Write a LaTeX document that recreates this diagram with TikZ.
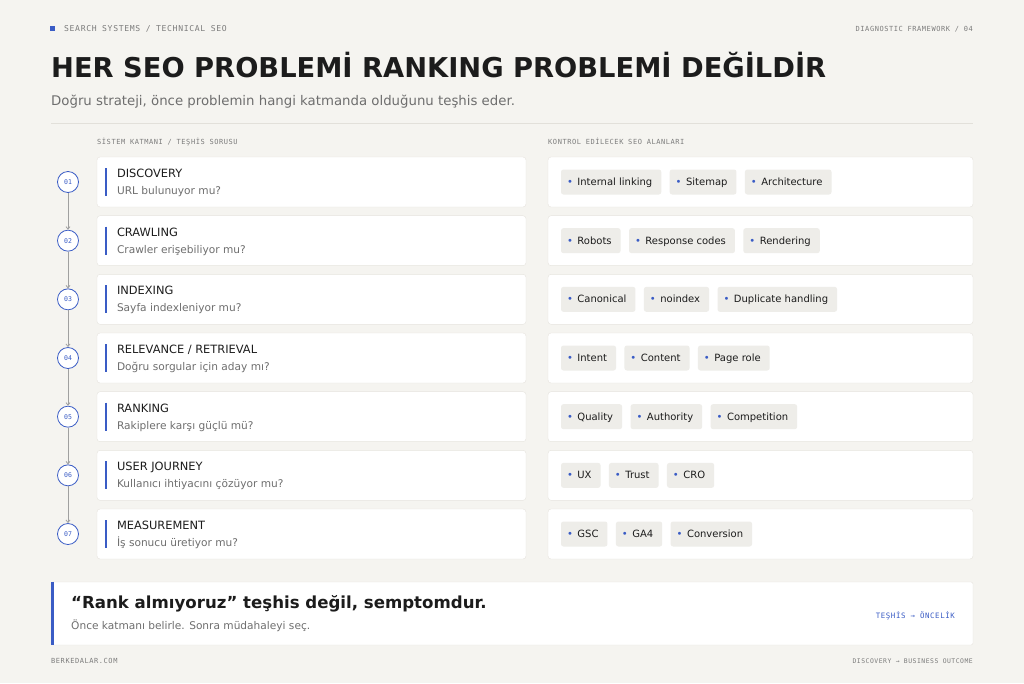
\documentclass[tikz,border=0pt]{standalone}
\usepackage{fontspec}
\setmainfont{DejaVu Sans}
\setmonofont{DejaVu Sans Mono}
\newfontfamily\capsmono[LetterSpace=8]{DejaVu Sans Mono}
\usetikzlibrary{positioning,arrows.meta}

\definecolor{paper}{HTML}{F5F4F0}
\definecolor{accent}{HTML}{3A5CC5}
\definecolor{ink}{HTML}{1C1C1C}
\definecolor{muted}{HTML}{6E6E6E}
\definecolor{monogray}{HTML}{7C7C7C}
\definecolor{cardline}{HTML}{E6E4DE}
\definecolor{chipbg}{HTML}{EEEDE9}
\definecolor{rulegray}{HTML}{E2E0DA}
\definecolor{linkgray}{HTML}{A0A0A0}

\newcommand\chipdot{{\color{accent}\textbullet}\kern4.5pt}

\tikzset{
  monolabel/.style={inner sep=0pt, text=monogray, font=\capsmono\fontsize{7}{8}\selectfont},
  card/.style={draw=cardline, fill=white, rounded corners=3pt, inner sep=0pt, minimum height=50pt},
  chip/.style={fill=chipbg, rounded corners=2.5pt, inner xsep=0pt, inner ysep=0pt,
    minimum height=25pt, text height=8.5pt, text depth=1.5pt, text=ink, font=\fontsize{10}{12}\selectfont},
  stepnum/.style={circle, draw=accent, line width=0.8pt, fill=white, minimum size=21pt, inner sep=0pt,
    text=accent, font=\ttfamily\fontsize{6.5}{7}\selectfont},
  steplink/.style={draw=linkgray, line width=0.8pt, -{Straight Barb[length=2.5pt,width=4pt]}},
}

\begin{document}
\begin{tikzpicture}[x=1pt,y=-1pt]
  % Page
  \fill[paper] (0,0) rectangle (1024,683);
  \useasboundingbox (0,0) rectangle (1024,683);

  % Header
  \node[fill=accent, minimum size=5pt, inner sep=0pt] (mark) at (52.5,28.5) {};
  \node[monolabel, anchor=base west, font=\capsmono\fontsize{8.1}{9}\selectfont] (kicker) at (64,31.5) {SEARCH SYSTEMS / TECHNICAL SEO};
  \node[monolabel, anchor=base east] (pageref) at (973,31) {DIAGNOSTIC FRAMEWORK / 04};
  \node[inner sep=0pt, anchor=base west, text=ink, font=\bfseries\fontsize{27.3}{31}\selectfont] (title) at (51,77) {HER SEO PROBLEMİ RANKING PROBLEMİ DEĞİLDİR};
  \node[inner sep=0pt, anchor=base west, text=muted, font=\fontsize{13.3}{16}\selectfont] (subtitle) at (51,105) {Doğru strateji, önce problemin hangi katmanda olduğunu teşhis eder.};
  \draw[rulegray, line width=0.8pt] (51,123) -- (973,123);

  % Column heads
  \node[monolabel, anchor=base west] (headleft) at (97,144) {SİSTEM KATMANI / TEŞHİS SORUSU};
  \node[monolabel, anchor=base west] (headright) at (548,144) {KONTROL EDİLECEK SEO ALANLARI};

  % Layers
  \foreach \i/\layer/\question in {
      1/DISCOVERY/URL bulunuyor mu?,
      2/CRAWLING/Crawler erişebiliyor mu?,
      3/INDEXING/Sayfa indexleniyor mu?,
      4/{RELEVANCE / RETRIEVAL}/Doğru sorgular için aday mı?,
      5/RANKING/Rakiplere karşı güçlü mü?,
      6/USER JOURNEY/Kullanıcı ihtiyacını çözüyor mu?,
      7/MEASUREMENT/İş sonucu üretiyor mu?} {
    \pgfmathsetmacro\yy{182+(\i-1)*58.667}
    \node[card, minimum width=429pt] (layer\i) at (311.5,\yy) {};
    \node[card, minimum width=425pt] (area\i) at (760.5,\yy) {};
    \draw[accent, line width=2pt] ([xshift=9pt,yshift=14pt]layer\i.west) -- ([xshift=9pt,yshift=-14pt]layer\i.west);
    \node[inner sep=0pt, anchor=base west, text=ink, font=\fontsize{11.4}{13}\selectfont] (name\i) at ([xshift=20pt,yshift=4.5pt]layer\i.west) {\layer};
    \node[inner sep=0pt, anchor=base west, text=muted, font=\fontsize{10.6}{12}\selectfont] (ask\i) at ([xshift=20pt,yshift=-12.5pt]layer\i.west) {\question};
    \node[stepnum] (num\i) at (68,\yy) {0\i};
  }

  % Flow
  \foreach \i [count=\j from 2] in {1,...,6}
    \draw[steplink] (num\i) -- (num\j);

  % Areas
  \foreach \i/\a/\b/\c in {
      1/Internal linking/Sitemap/Architecture,
      2/Robots/Response codes/Rendering,
      3/Canonical/noindex/Duplicate handling,
      4/Intent/Content/Page role,
      5/Quality/Authority/Competition,
      6/UX/Trust/CRO,
      7/GSC/GA4/Conversion} {
    \node[chip, anchor=west] (chipa\i) at ([xshift=13pt]area\i.west) {\kern6pt\chipdot\a\kern9pt};
    \node[chip, right=8pt of chipa\i] (chipb\i) {\kern6pt\chipdot\b\kern9pt};
    \node[chip, right=8pt of chipb\i] (chipc\i) {\kern6pt\chipdot\c\kern9pt};
  }

  % Takeaway
  \node[draw=cardline, fill=white, rounded corners=2pt, inner sep=0pt, minimum width=922pt, minimum height=63pt] (takeaway) at (512,613.5) {};
  \draw[accent, line width=3pt] ([xshift=1.5pt]takeaway.north west) -- ([xshift=1.5pt]takeaway.south west);
  \node[inner sep=0pt, anchor=base west, text=ink, font=\bfseries\fontsize{16.6}{19}\selectfont] (claim) at (71,608.5) {“Rank almıyoruz” teşhis değil, semptomdur.};
  \node[inner sep=0pt, anchor=base west, text=muted, font=\fontsize{10.6}{12}\selectfont] (advice) at (71,629) {Önce katmanı belirle. Sonra müdahaleyi seç.};
  \node[monolabel, anchor=base east, text=accent, font=\capsmono\fontsize{7.4}{8}\selectfont] (priority) at (955,618) {TEŞHİS → ÖNCELİK};

  % Footer
  \node[monolabel, anchor=base west] (site) at (51,663.5) {BERKEDALAR.COM};
  \node[monolabel, anchor=base east, font=\capsmono\fontsize{6.4}{7}\selectfont] (outcome) at (973,663.5) {DISCOVERY → BUSINESS OUTCOME};
\end{tikzpicture}
\end{document}
